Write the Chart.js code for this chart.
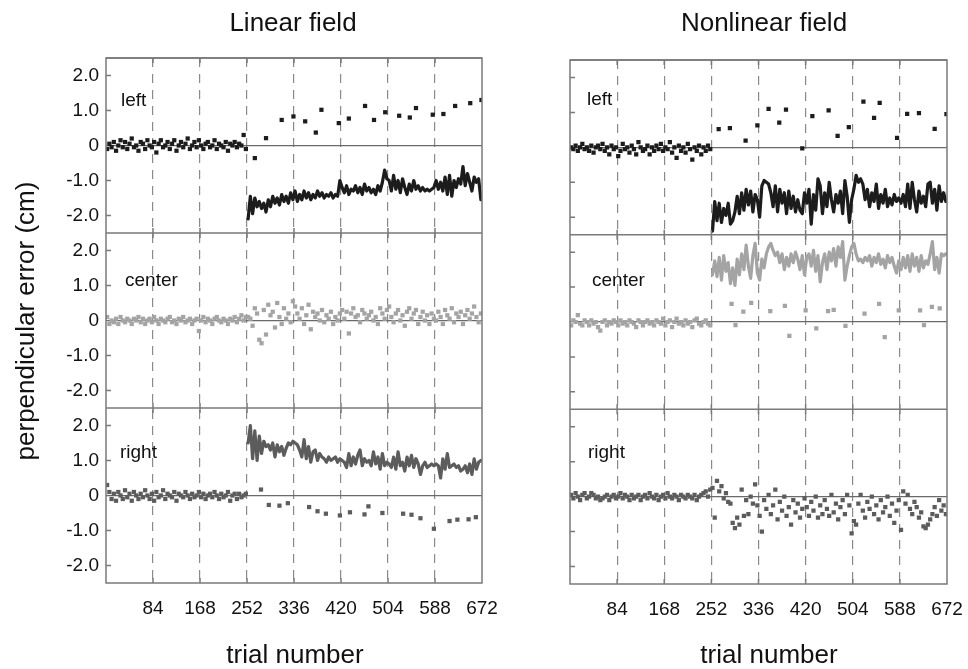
<!DOCTYPE html>
<html>
<head>
<meta charset="utf-8">
<script src="https://cdn.jsdelivr.net/npm/chart.js@4.4.1/dist/chart.umd.min.js"></script>
<style>
  body { margin: 0; background: #fff; }
  #wrap { position: relative; width: 968px; height: 669px; }
  canvas { position: absolute; top: 0; }
</style>
</head>
<body>
<div id="wrap">
  <canvas id="nonlinear" width="478" height="669" style="left:490px"></canvas>
  <canvas id="linear" width="520" height="669" style="left:0"></canvas>
</div>
<script>
// tick values
const xTicks = [0, 84, 168, 252, 336, 420, 504, 588, 672];
const yTicks = [-2, -1, 0, 1, 2];

// baseline trials: every 4th trial from 2 to 250
const baseStart = 2, baseStep = 4;
// field trials: every 4th trial from 254 to 670
const postStart = 254, postStep = 4;

// ---- Linear field ----
const linLeftBase = [-0.1,0.05,-0.05,0.1,-0.15,0.0,0.15,-0.05,0.1,-0.1,0.05,0.2,-0.05,0.0,-0.15,0.1,0.05,-0.1,0.15,0.0,
  -0.05,0.1,-0.2,0.05,0.15,-0.05,0.0,0.1,-0.1,0.05,0.15,-0.15,0.0,0.1,-0.05,0.05,0.2,-0.1,0.0,0.1,
  -0.05,0.15,0.0,-0.1,0.05,0.1,-0.05,0.0,0.15,-0.1,0.05,0.0,-0.05,0.1,-0.15,0.05,0.0,0.1,-0.05,0.05,0.0,0.3,-0.1];
const linLeftLine = [-2.1,-1.45,-1.95,-1.5,-1.75,-1.6,-1.8,-1.65,-1.9,-1.55,-1.75,-1.45,-1.65,-1.5,-1.7,-1.4,-1.6,-1.45,-1.65,-1.35,-1.55,
  -1.3,-1.6,-1.4,-1.55,-1.3,-1.5,-1.35,-1.55,-1.4,-1.5,-1.3,-1.45,-1.35,-1.5,-1.4,-1.45,-1.35,-1.5,-1.4,-1.45,-1.0,
  -1.2,-1.35,-1.15,-1.4,-1.25,-1.3,-1.15,-1.35,-1.2,-1.4,-1.1,-1.3,-1.2,-1.35,-1.25,-1.4,-1.15,-1.3,-1.05,-0.7,-0.95,
  -1.0,-1.3,-0.85,-1.25,-1.0,-1.35,-0.95,-1.2,-1.4,-1.1,-1.3,-1.0,-1.25,-1.15,-1.3,-1.2,-1.3,-1.25,-1.3,-1.25,-1.2,
  -1.0,-1.25,-1.05,-1.3,-0.9,-1.4,-0.85,-1.45,-1.0,-1.2,-0.95,-1.1,-0.6,-1.15,-0.8,-1.05,-1.3,-0.9,-1.05,-0.95,-1.55];
const linLeftCatchT = [266,286,314,335,356,375,385,416,434,463,479,499,524,543,554,584,603,624,651,671];
const linLeftCatch = [-0.36,0.21,0.73,0.83,0.69,0.37,1.02,0.64,0.77,1.13,0.73,0.95,0.85,0.8,1.07,0.88,0.9,1.13,1.21,1.3];

const linCenterBase = [0.1,-0.1,0.0,-0.05,0.05,-0.1,0.1,0.0,-0.05,0.05,0.0,-0.1,0.05,0.0,0.1,-0.05,0.05,-0.1,0.0,0.05,
  -0.05,0.1,0.0,-0.1,0.05,0.0,-0.05,0.05,0.1,-0.05,0.0,-0.1,0.05,0.0,0.1,-0.05,0.0,0.05,-0.1,0.0,
  0.05,-0.3,0.0,0.1,-0.05,0.05,0.0,-0.1,0.05,0.1,0.0,-0.05,0.05,0.0,-0.1,0.05,0.0,0.1,-0.05,0.05,0.15,0.0,0.1];
const linCenterPost = [0.1,0.05,-0.15,0.35,0.2,-0.55,-0.65,0.3,-0.4,0.45,0.15,0.25,-0.2,0.5,0.1,-0.1,0.35,0.05,0.2,-0.05,0.55,
  0.4,0.2,0.05,0.35,-0.1,0.15,0.45,-0.25,0.25,0.1,0.2,0.0,0.3,-0.05,0.15,0.05,0.25,-0.1,0.1,0.0,0.2,
  0.3,0.05,0.25,-0.37,0.2,0.35,0.1,0.15,-0.05,0.3,0.2,0.05,0.15,0.25,0.0,0.1,-0.1,0.35,0.2,0.05,0.3,
  0.4,0.1,-0.05,0.2,0.3,0.0,0.15,-0.15,0.25,0.35,0.05,0.2,0.3,-0.1,0.1,0.25,0.0,0.15,-0.1,0.2,0.05,
  0.0,0.25,0.1,-0.1,0.3,0.15,0.05,0.35,-0.05,0.2,0.1,0.25,-0.1,0.15,0.3,0.05,0.2,0.4,0.1,-0.05,0.2];

const linRightBase = [0.3,0.1,-0.1,0.05,-0.15,0.1,0.0,-0.1,0.15,-0.05,0.05,-0.15,0.1,0.0,-0.1,0.05,-0.05,0.15,0.0,-0.1,
  0.05,-0.15,0.1,-0.05,0.0,0.15,-0.1,0.05,0.0,-0.05,0.1,-0.15,0.05,0.0,-0.05,0.1,0.0,-0.1,0.05,-0.05,
  0.0,0.1,-0.05,0.05,-0.1,0.0,0.05,-0.05,0.1,0.0,-0.1,0.05,-0.05,0.0,0.1,-0.15,0.0,0.05,-0.1,0.05,-0.05,0.0,0.05];
const linRightLine = [1.5,2.0,1.05,1.85,1.0,1.7,1.2,1.55,1.4,1.45,1.3,1.5,1.1,1.45,1.25,1.4,1.15,1.35,1.5,1.45,1.55,
  1.5,1.45,1.3,1.1,1.6,1.05,1.4,0.95,1.25,1.3,1.0,1.2,1.1,1.05,0.95,1.1,1.0,1.05,1.1,0.95,1.05,
  1.0,0.95,0.8,1.2,0.85,1.1,0.9,1.15,1.3,0.85,1.05,0.95,1.0,0.85,1.25,0.9,1.1,0.75,1.2,0.85,0.95,
  0.9,0.8,1.1,0.75,1.25,0.85,0.95,0.7,1.1,0.85,1.15,0.8,1.05,0.9,0.6,0.85,0.95,0.8,0.85,0.9,0.85,
  0.9,0.85,0.5,1.05,0.75,1.2,0.8,0.85,0.9,0.8,0.85,0.7,0.75,0.85,0.65,0.9,0.6,1.05,0.75,0.95,1.0];
const linRightCatchT = [277,291,310,325,363,378,393,418,436,462,469,494,531,546,562,586,614,628,648,661];
const linRightCatch = [0.17,-0.27,-0.29,-0.22,-0.33,-0.45,-0.52,-0.57,-0.48,-0.54,-0.31,-0.5,-0.52,-0.55,-0.65,-0.95,-0.73,-0.69,-0.68,-0.62];

// ---- Nonlinear field ----
const nonLeftBase = [0.0,-0.05,0.05,-0.1,0.0,0.1,-0.05,0.0,-0.1,0.05,-0.15,0.0,0.05,-0.05,0.1,-0.1,0.0,-0.2,0.05,-0.05,
  0.0,-0.25,-0.1,0.1,-0.05,0.0,-0.15,0.05,-0.05,-0.2,0.15,0.0,-0.1,-0.05,0.05,-0.2,0.0,-0.1,0.05,-0.05,
  0.1,-0.1,0.0,-0.05,0.15,-0.15,0.0,-0.3,0.05,-0.1,0.0,-0.15,0.1,-0.05,-0.35,0.0,-0.1,0.05,-0.2,0.0,-0.1,0.05,-0.05];
const nonLeftLine = [-2.4,-1.55,-2.1,-1.6,-2.15,-1.75,-1.95,-1.6,-2.2,-2.1,-1.85,-1.4,-1.9,-1.3,-1.8,-1.2,-1.65,-1.25,-1.85,-1.35,-1.5,
  -2.0,-1.1,-0.95,-1.0,-1.05,-1.3,-1.7,-1.1,-1.85,-1.2,-1.6,-1.3,-1.9,-1.25,-1.75,-1.4,-1.85,-1.5,-1.8,-1.9,-1.3,
  -1.6,-1.2,-2.2,-1.35,-1.8,-0.9,-1.1,-1.9,-1.3,-1.7,-1.0,-1.5,-1.85,-1.35,-1.6,-1.25,-1.9,-0.95,-1.4,-2.15,-1.5,
  -1.2,-0.8,-1.0,-0.9,-1.05,-1.5,-1.2,-1.7,-1.3,-1.55,-1.05,-1.75,-1.35,-1.6,-1.2,-1.7,-1.45,-1.65,-1.35,-1.55,-1.45,
  -1.6,-1.35,-1.7,-1.05,-1.75,-1.0,-1.5,-1.85,-1.25,-1.6,-1.4,-1.7,-1.05,-1.0,-1.6,-1.2,-1.8,-1.1,-1.55,-1.3,-1.55];
const nonLeftCatchT = [265,285,313,334,354,373,385,414,432,461,477,497,523,542,552,583,601,622,650,671];
const nonLeftCatch = [0.52,0.55,0.19,0.63,1.1,0.71,1.08,-0.03,0.89,1.06,0.33,0.58,1.31,0.84,1.27,0.27,0.96,0.98,0.53,0.95];

const nonCenterBase = [-0.1,0.05,0.0,0.2,-0.05,-0.1,0.05,0.0,-0.1,0.05,-0.05,0.0,-0.15,-0.25,0.0,0.05,-0.1,0.0,-0.05,0.05,
  0.0,-0.1,0.05,-0.05,0.0,-0.1,0.05,0.0,-0.05,-0.15,0.05,0.0,-0.1,0.0,0.05,-0.05,0.0,-0.1,0.05,0.0,
  -0.05,0.1,-0.1,0.0,0.05,-0.15,0.0,0.1,-0.05,0.0,-0.1,0.05,-0.05,0.0,-0.15,0.05,0.1,-0.05,-0.1,0.0,0.05,-0.05,-0.1];
const nonCenterLine = [1.35,1.75,1.3,1.85,1.2,1.9,1.45,1.7,1.1,1.55,1.05,1.8,1.35,1.95,1.5,2.2,1.6,1.25,1.9,2.25,1.4,
  1.2,1.8,1.55,1.95,2.15,2.25,2.05,1.9,2.0,1.7,1.95,1.5,1.85,1.6,1.95,1.7,2.0,1.8,1.5,1.9,1.35,
  1.85,1.95,1.6,2.05,1.45,1.9,1.15,1.7,1.95,1.5,2.0,1.75,2.1,1.6,2.15,1.85,2.3,1.2,1.6,1.9,2.15,
  2.25,1.95,1.75,1.8,1.7,1.85,1.75,1.9,1.6,1.85,1.7,1.95,1.65,1.8,1.55,1.9,1.7,1.85,1.6,1.4,1.75,
  1.5,1.85,1.55,1.9,1.45,1.95,1.6,1.85,1.45,1.9,1.55,1.75,1.65,1.95,2.3,1.5,1.85,1.4,1.95,1.9,1.95];
const nonCenterCatchT = [288,295,309,323,357,383,391,420,439,460,470,491,525,551,561,586,624,631,645,659];
const nonCenterCatch = [0.52,-0.09,0.3,0.55,0.31,0.46,-0.4,0.33,-0.18,0.31,0.35,-0.11,0.24,0.52,-0.43,0.33,0.33,-0.09,0.43,0.39];

const nonRightBase = [0.05,-0.05,0.1,0.0,-0.1,0.05,0.1,-0.05,0.0,0.1,0.05,-0.05,0.0,-0.1,-0.05,0.0,0.05,-0.1,0.0,0.05,
  -0.05,0.0,0.1,-0.05,0.05,0.0,-0.1,0.05,-0.05,0.0,0.05,-0.1,0.0,0.05,-0.05,0.1,0.0,-0.05,0.05,-0.1,
  0.0,0.05,-0.05,0.1,0.0,-0.05,0.05,0.0,-0.1,0.05,0.0,-0.05,0.05,0.0,-0.05,0.05,-0.1,0.0,0.05,0.1,0.15,0.0,0.2];
const nonRightPost = [0.25,-0.6,0.45,0.15,0.3,-0.05,0.1,-0.15,-0.2,-0.75,-0.9,-0.6,-0.8,0.2,-0.55,-0.1,-0.5,0.0,-0.2,0.35,-0.25,
  -0.55,-1.0,-0.1,-0.35,0.05,-0.5,-0.25,0.2,-0.65,-0.15,-0.4,0.0,-0.55,-0.3,-0.8,-0.1,-0.45,-0.2,-0.6,-0.35,-0.05,
  -0.3,-0.55,-0.15,-0.4,0.0,-0.6,-0.25,-0.5,-0.1,-0.35,-0.55,0.05,-0.45,-0.2,-0.65,-0.3,-0.1,-0.5,0.05,-0.25,-1.05,
  -0.7,-0.8,-0.2,0.05,-0.4,-0.6,-0.15,-0.35,0.0,-0.5,-0.25,-0.65,-0.1,-0.45,-0.3,0.0,-0.55,-0.2,-0.75,-0.4,-0.1,
  -0.95,0.15,-0.2,0.05,-0.35,-0.5,-0.15,-0.3,-0.6,-0.45,-0.85,-0.9,-0.8,-0.65,-0.5,-0.3,-0.55,-0.1,-0.4,-0.25,-0.5];

const black = '#1c1c1c', light = '#a4a4a4', dark = '#5c5c5c';
const fontFam = '"Liberation Sans", Arial, sans-serif';

function pts(start, step, vals) {
  return vals.map((v, i) => ({x: start + i * step, y: v}));
}
function ptsT(ts, vals) {
  return vals.map((v, i) => ({x: ts[i], y: v}));
}
function dots(data, color, axis) {
  return {data: data, yAxisID: axis, showLine: false, pointStyle: 'rect', pointRadius: 3,
    pointBackgroundColor: color, pointBorderWidth: 0, borderColor: color};
}
function line(data, color, axis) {
  return {data: data, yAxisID: axis, showLine: true, pointRadius: 0, borderColor: color,
    borderWidth: 3.2, borderJoinStyle: 'round', borderCapStyle: 'round', tension: 0};
}

// frame, inward ticks and texts
const decor = {
  id: 'decor',
  afterDatasetsDraw(chart, args, o) {
    const ctx = chart.ctx, a = chart.chartArea, xs = chart.scales.x;
    ctx.save();
    ctx.strokeStyle = '#7a7a7a';
    ctx.lineWidth = 1.5;
    ctx.strokeRect(a.left, a.top, a.right - a.left, a.bottom - a.top);
    ['yL', 'yC', 'yR'].forEach(id => {
      const s = chart.scales[id];
      ctx.beginPath();
      ctx.moveTo(a.left, s.top); ctx.lineTo(a.right, s.top);
      yTicks.forEach(v => {
        if (v === 0) return;
        const y = s.getPixelForValue(v);
        ctx.moveTo(a.left, y); ctx.lineTo(a.left + 5, y);
      });
      xTicks.forEach(v => {
        if (v === 0 || v === 672) return;
        const x = xs.getPixelForValue(v);
        ctx.moveTo(x, s.top); ctx.lineTo(x, s.top + 5);
        ctx.moveTo(x, s.bottom); ctx.lineTo(x, s.bottom - 5);
      });
      ctx.stroke();
    });
    ctx.restore();
  },
  afterDraw(chart, args, o) {
    const ctx = chart.ctx, a = chart.chartArea;
    ctx.save();
    ctx.fillStyle = '#111';
    ctx.font = '26px ' + fontFam;
    ctx.textAlign = 'center';
    ctx.textBaseline = 'alphabetic';
    ctx.fillText(o.title, o.titleX, 31);
    ctx.fillText('trial number', o.xTitleX, 663);
    if (o.yTitle) {
      ctx.save();
      ctx.translate(27, 321);
      ctx.rotate(-Math.PI / 2);
      ctx.textBaseline = 'middle';
      ctx.fillText(o.yTitle, 0, 0);
      ctx.restore();
    }
    ctx.font = '19px ' + fontFam;
    ctx.textAlign = 'left';
    o.labels.forEach(l => {
      ctx.fillText(l.text, a.left + l.dx, chart.scales[l.axis].getPixelForValue(l.v));
    });
    ctx.restore();
  }
};

function yAxis(showLabels, width) {
  return {
    type: 'linear', min: -2.5, max: 2.5, position: 'left', stack: 'panel', stackWeight: 1, offset: false,
    afterBuildTicks: s => { s.ticks = yTicks.map(v => ({value: v})); },
    afterFit: s => { s.width = width; s.paddingTop = 0; s.paddingBottom = 0; },
    ticks: {display: showLabels, autoSkip: false, padding: 7, color: '#111', font: {family: fontFam, size: 19},
      callback: v => v === 0 ? '0' : v.toFixed(1)},
    grid: {drawTicks: false, lineWidth: 1.3,
      color: c => (c.tick && c.tick.value === 0) ? '#6a6a6a' : 'rgba(0,0,0,0)'},
    border: {display: false}
  };
}

function makePanel(id, datasets, o) {
  return new Chart(document.getElementById(id), {
    type: 'scatter',
    data: {datasets: datasets},
    options: {
      responsive: false, animation: false, devicePixelRatio: 1,
      layout: {padding: {top: o.top, right: o.right, left: 0, bottom: 0}},
      plugins: {legend: {display: false}, tooltip: {enabled: false}, decor: o.decor},
      scales: {
        x: {
          type: 'linear', min: 0, max: 672,
          afterBuildTicks: s => { s.ticks = xTicks.map(v => ({value: v})); },
          afterFit: s => { s.height = o.xHeight; s.paddingLeft = 0; s.paddingRight = 0; },
          ticks: {padding: 14, maxRotation: 0, autoSkip: false, color: '#111',
            font: {family: fontFam, size: 19}, callback: v => v === 0 ? '' : String(v)},
          grid: {drawTicks: false, lineWidth: 1.2,
            color: c => (c.tick && c.tick.value > 0 && c.tick.value < 672) ? '#8a8a8a' : 'rgba(0,0,0,0)'},
          border: {display: false, dash: [9, 7]}
        },
        // stacked axes are laid out bottom to top in definition order
        yR: yAxis(o.showY, o.yWidth),
        yC: yAxis(o.showY, o.yWidth),
        yL: yAxis(o.showY, o.yWidth)
      }
    },
    plugins: [decor]
  });
}

makePanel('linear', [
  dots(pts(baseStart, baseStep, linLeftBase), black, 'yL'),
  line(pts(postStart, postStep, linLeftLine), black, 'yL'),
  dots(ptsT(linLeftCatchT, linLeftCatch), black, 'yL'),
  dots(pts(baseStart, baseStep, linCenterBase), light, 'yC'),
  dots(pts(postStart, postStep, linCenterPost), light, 'yC'),
  dots(pts(baseStart, baseStep, linRightBase), dark, 'yR'),
  line(pts(postStart, postStep, linRightLine), dark, 'yR'),
  dots(ptsT(linRightCatchT, linRightCatch), dark, 'yR')
], {
  top: 58, right: 38, xHeight: 86, yWidth: 106, showY: true,
  decor: {title: 'Linear field', titleX: 293, xTitleX: 295, yTitle: 'perpendicular error (cm)',
    labels: [{text: 'left', axis: 'yL', dx: 15, v: 1.13},
             {text: 'center', axis: 'yC', dx: 19, v: 0.99},
             {text: 'right', axis: 'yR', dx: 14, v: 1.06}]}
});

makePanel('nonlinear', [
  dots(pts(baseStart, baseStep, nonLeftBase), black, 'yL'),
  line(pts(postStart, postStep, nonLeftLine), black, 'yL'),
  dots(ptsT(nonLeftCatchT, nonLeftCatch), black, 'yL'),
  dots(pts(baseStart, baseStep, nonCenterBase), light, 'yC'),
  line(pts(postStart, postStep, nonCenterLine), light, 'yC'),
  dots(ptsT(nonCenterCatchT, nonCenterCatch), light, 'yC'),
  dots(pts(baseStart, baseStep, nonRightBase), dark, 'yR'),
  dots(pts(postStart, postStep, nonRightPost), dark, 'yR')
], {
  top: 60, right: 21, xHeight: 85, yWidth: 80, showY: false,
  decor: {title: 'Nonlinear field', titleX: 274, xTitleX: 279, yTitle: null,
    labels: [{text: 'left', axis: 'yL', dx: 17, v: 1.2},
             {text: 'center', axis: 'yC', dx: 22, v: 1.04},
             {text: 'right', axis: 'yR', dx: 18, v: 1.1}]}
});
</script>
</body>
</html>
